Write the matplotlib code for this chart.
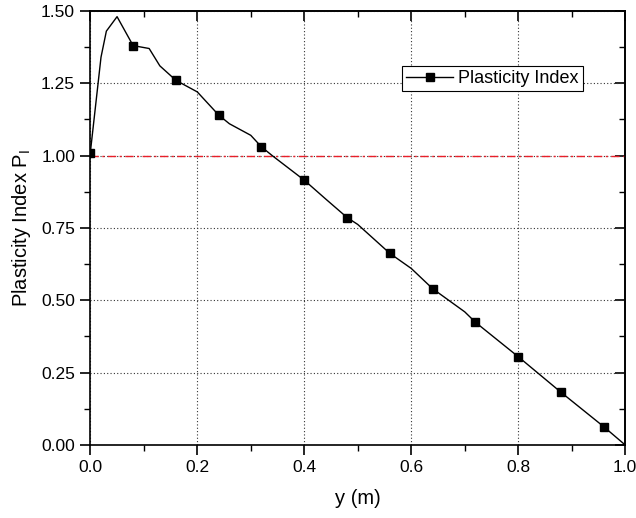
import matplotlib
matplotlib.use("Agg")
import matplotlib.pyplot as plt
from matplotlib.ticker import MultipleLocator

plt.rcParams['font.family'] = ['Liberation Sans', 'DejaVu Sans']
plt.rcParams['mathtext.fontset'] = 'custom'
plt.rcParams['mathtext.rm'] = 'Liberation Sans'

y_pos = [0.00, 0.02, 0.03, 0.05, 0.08, 0.11, 0.13, 0.16, 0.20, 0.24, 0.26, 0.30,
         0.32, 0.34, 0.40, 0.44, 0.48, 0.50, 0.56, 0.60, 0.64, 0.70, 0.72, 0.80,
         0.88, 0.96, 1.00]
P_index = [1.01, 1.34, 1.43, 1.48, 1.38, 1.37, 1.31, 1.26, 1.22, 1.14, 1.11, 1.07,
           1.03, 1.00, 0.915, 0.85, 0.786, 0.762, 0.662, 0.61, 0.54, 0.46, 0.424, 0.305,
           0.182, 0.063, 0.00]
marker_pos = [0.00, 0.08, 0.16, 0.24, 0.32, 0.40, 0.48, 0.56, 0.64, 0.72, 0.80, 0.88, 0.96]
ref_level = 1.0
series_label = "Plasticity Index"

fig = plt.figure(figsize=(6.36, 5.18), dpi=100)
ax = fig.add_axes([0.142, 0.141, 0.841, 0.838])

mk_idx = [i for i, v in enumerate(y_pos) if any(abs(v - m) < 1e-9 for m in marker_pos)]
ax.plot(y_pos, P_index, color='black', lw=1.0, marker='s', markersize=5.6,
        markevery=mk_idx, label=series_label, zorder=3)
ax.axhline(ref_level, color='#e8202a', lw=1.0, dashes=(6, 2.5, 1.5, 2.5), zorder=2)

ax.set_xlim(0, 1.0)
ax.set_ylim(0, 1.5)
ax.xaxis.set_major_locator(MultipleLocator(0.2))
ax.xaxis.set_minor_locator(MultipleLocator(0.1))
ax.yaxis.set_major_locator(MultipleLocator(0.25))
ax.yaxis.set_minor_locator(MultipleLocator(0.125))
ax.set_xticklabels([f"{v:.1f}" for v in ax.get_xticks()])
ax.set_yticklabels([f"{v:.2f}" for v in ax.get_yticks()])
ax.grid(True, which='major', color='#333333', linestyle=(0, (1, 2)), lw=0.8)

ax.tick_params(axis='both', which='major', direction='out', length=7, width=1.2,
               labelsize=12.5, top=False, right=False, pad=4)
ax.tick_params(axis='both', which='minor', direction='out', length=4, width=1.0,
               top=False, right=False)
sec_x = ax.secondary_xaxis('top')
sec_x.xaxis.set_major_locator(MultipleLocator(0.2))
sec_x.xaxis.set_minor_locator(MultipleLocator(0.1))
sec_x.tick_params(which='major', direction='in', length=7, width=1.2, labeltop=False)
sec_x.tick_params(which='minor', direction='in', length=4, width=1.0)
sec_x.spines['top'].set_linewidth(1.2)
sec_y = ax.secondary_yaxis('right')
sec_y.yaxis.set_major_locator(MultipleLocator(0.25))
sec_y.yaxis.set_minor_locator(MultipleLocator(0.125))
sec_y.tick_params(which='major', direction='in', length=7, width=1.2, labelright=False)
sec_y.tick_params(which='minor', direction='in', length=4, width=1.0)
sec_y.spines['right'].set_linewidth(1.2)

for s in ax.spines.values():
    s.set_linewidth(1.2)

ax.set_xlabel("y (m)", fontsize=14.5, labelpad=10)
ax.set_ylabel("Plasticity Index P$_{\\mathregular{I}}$", fontsize=14.5, labelpad=6)

leg = ax.legend(loc='upper left', bbox_to_anchor=(0.583, 0.872), fontsize=13,
                frameon=True, fancybox=False, edgecolor='black', framealpha=1,
                handlelength=2.6, borderpad=0.22, handletextpad=0.3, borderaxespad=0)
leg.get_frame().set_linewidth(0.8)

fig.savefig("out.png", dpi=100)
